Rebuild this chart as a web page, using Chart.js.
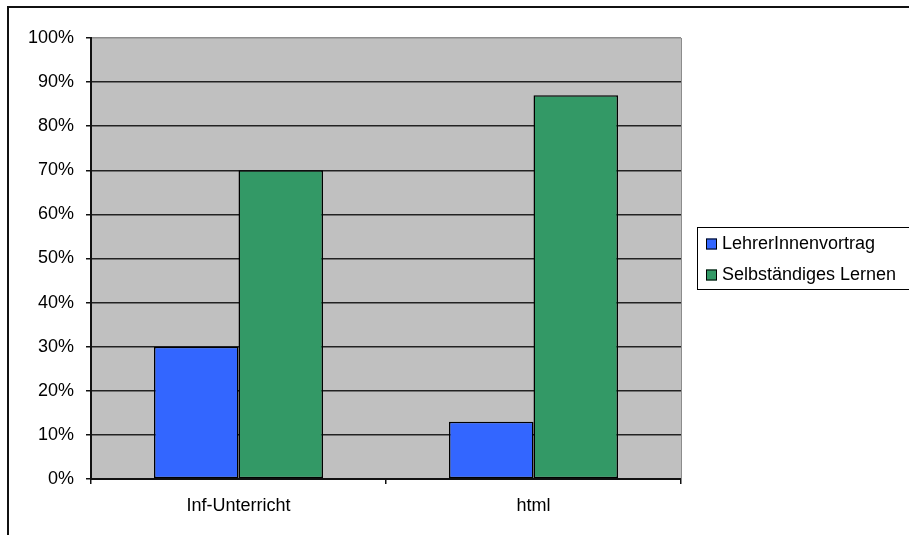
<!DOCTYPE html>
<html>
<head>
<meta charset="utf-8">
<script src="https://cdn.jsdelivr.net/npm/chart.js@4/dist/chart.umd.min.js"></script>
<style>
  html, body { margin: 0; padding: 0; background: #fff; }
  canvas { display: block; }
</style>
</head>
<body>
<canvas id="c" width="909" height="535"></canvas>
<script>
// Categories, series and values (shares as fractions of 1)
const categories = ['Inf-Unterricht', 'html'];
const seriesNames = ['LehrerInnenvortrag', 'Selbständiges Lernen'];
const lehrerValues = [0.30, 0.13];
const selbstValues = [0.70, 0.87];
const seriesColors = ['#3366FF', '#339966'];
const yTickStep = 0.1;

const FONT = 'Arial, "Liberation Sans", sans-serif';
const FONT_SIZE = 18;

// Frame, plot background and legend box
const decor = {
  id: 'decor',
  beforeDraw(chart) {
    const ctx = chart.ctx, a = chart.chartArea;
    ctx.save();
    ctx.fillStyle = '#fff';
    ctx.fillRect(0, 0, chart.width, chart.height);
    // outer chart frame (top and left edges visible)
    ctx.strokeStyle = '#111';
    ctx.lineWidth = 2;
    ctx.beginPath();
    ctx.moveTo(8, chart.height);
    ctx.lineTo(8, 7);
    ctx.lineTo(chart.width, 7);
    ctx.stroke();
    // plot area
    ctx.fillStyle = '#C0C0C0';
    ctx.fillRect(a.left, a.top, a.right - a.left, a.bottom - a.top);
    ctx.restore();
  },
  beforeDatasetsDraw(chart) {
    const ctx = chart.ctx, a = chart.chartArea;
    ctx.save();
    ctx.strokeStyle = '#8c8c8c';
    ctx.lineWidth = 1;
    ctx.beginPath();
    ctx.moveTo(a.right + 0.5, a.top);
    ctx.lineTo(a.right + 0.5, a.bottom);
    ctx.stroke();
    ctx.restore();
  },
  afterDraw(chart) {
    const ctx = chart.ctx;
    ctx.save();
    // legend box
    const bx = 697.5, by = 227.5, bw = 230, bh = 62;
    ctx.strokeStyle = '#000';
    ctx.lineWidth = 1;
    ctx.strokeRect(bx, by, bw, bh);
    ctx.font = FONT_SIZE + 'px ' + FONT;
    ctx.textBaseline = 'middle';
    ctx.textAlign = 'left';
    chart.data.datasets.forEach((ds, i) => {
      const cy = 243.5 + i * 31;
      ctx.fillStyle = ds.backgroundColor;
      ctx.fillRect(706, cy - 5, 11, 11);
      ctx.strokeStyle = '#000';
      ctx.strokeRect(706.5, cy - 4.5, 10, 10);
      ctx.fillStyle = '#000';
      ctx.fillText(ds.label, 722, cy + 1);
    });
    ctx.restore();
  }
};

new Chart(document.getElementById('c'), {
  type: 'bar',
  data: {
    labels: categories,
    datasets: [
      { label: seriesNames[0], data: lehrerValues, backgroundColor: seriesColors[0] },
      { label: seriesNames[1], data: selbstValues, backgroundColor: seriesColors[1] }
    ]
  },
  options: {
    responsive: false,
    animation: false,
    devicePixelRatio: 1,
    layout: { padding: { top: 38, left: 0, right: 228, bottom: 0 } },
    datasets: {
      bar: {
        categoryPercentage: 0.573,
        barPercentage: 1,
        borderWidth: 1.5,
        borderColor: '#000',
        borderSkipped: false
      }
    },
    plugins: {
      legend: { display: false },
      tooltip: { enabled: false }
    },
    scales: {
      x: {
        grid: {
          display: true,
          drawOnChartArea: false,
          drawTicks: true,
          tickLength: 5,
          tickColor: '#111',
          lineWidth: 1.5,
          offset: true
        },
        border: { display: true, color: '#111', width: 2 },
        ticks: {
          color: '#000',
          font: { family: FONT, size: FONT_SIZE },
          padding: 11,
          maxRotation: 0
        },
        afterFit(s) { s.height = 56; }
      },
      y: {
        min: 0,
        max: 1,
        ticks: {
          stepSize: yTickStep,
          color: '#000',
          font: { family: FONT, size: FONT_SIZE },
          padding: 12,
          callback: v => Math.round(v * 100) + '%'
        },
        grid: {
          color: c => (c.tick && Math.abs(c.tick.value - 1) < 1e-9) ? '#8c8c8c' : '#222',
          lineWidth: 1.5,
          tickColor: '#111',
          tickLength: 5
        },
        border: { display: true, color: '#111', width: 2 },
        afterFit(s) { s.width = 91; }
      }
    }
  },
  plugins: [decor]
});
</script>
</body>
</html>
